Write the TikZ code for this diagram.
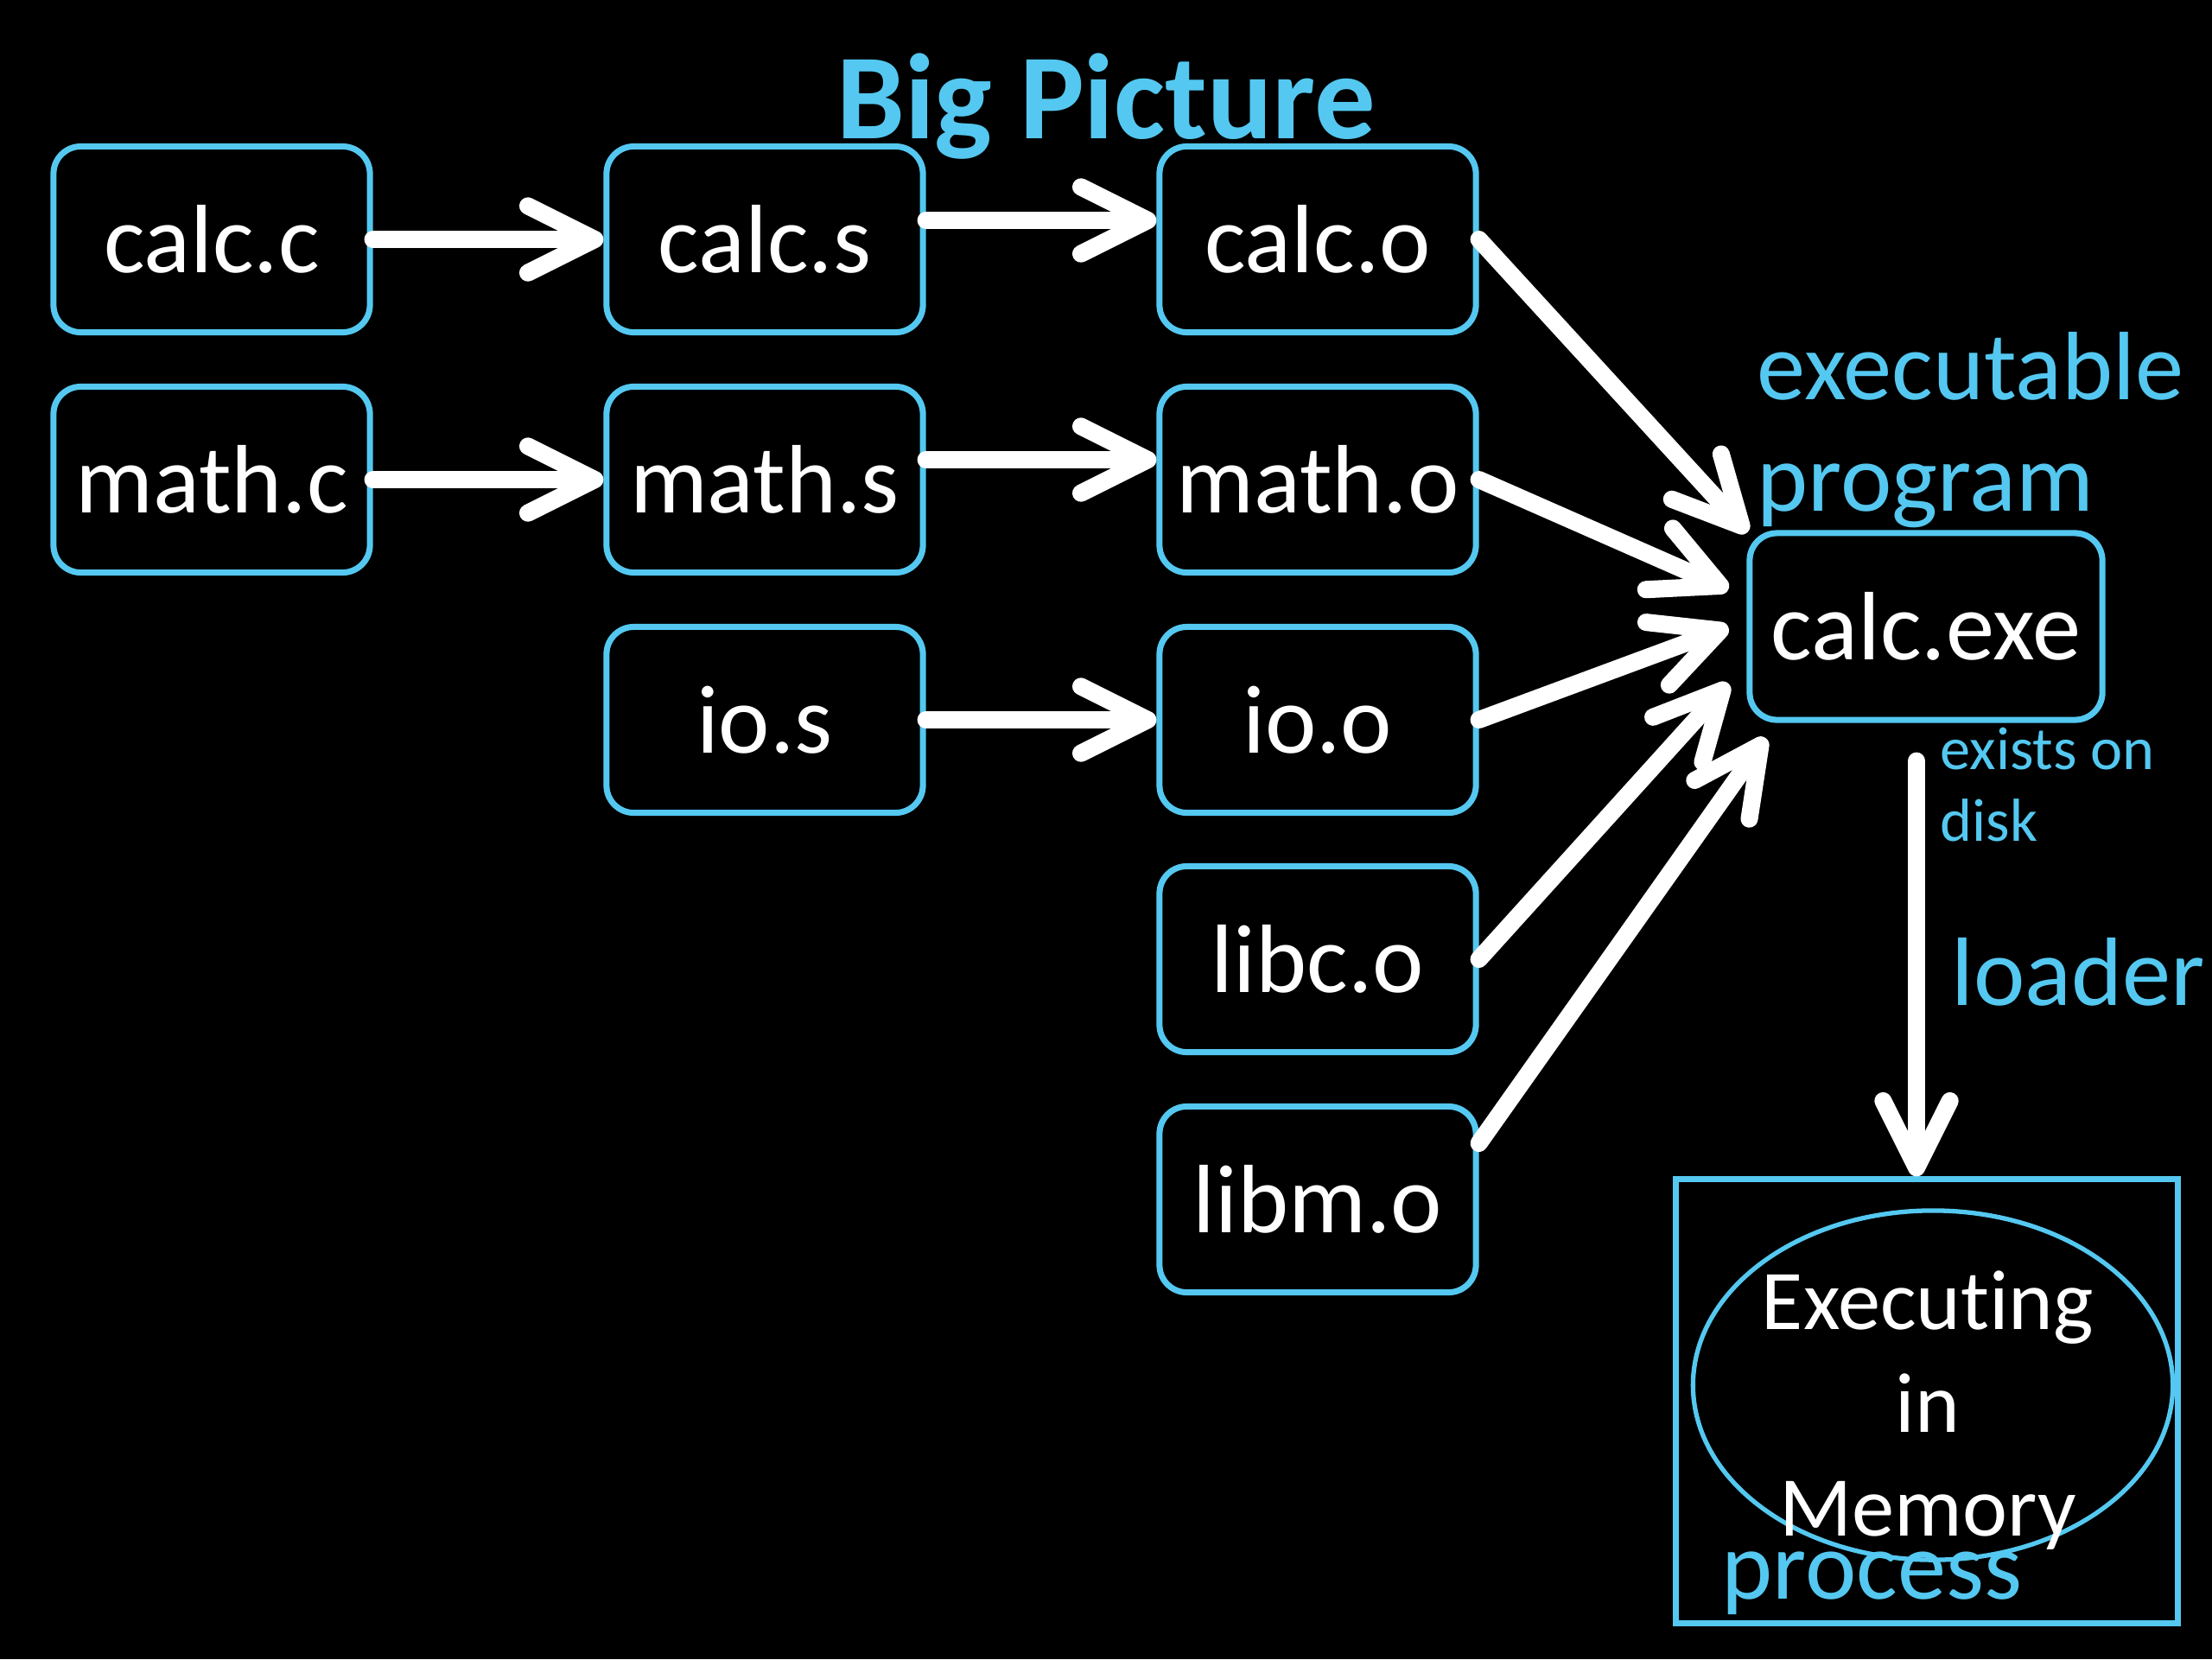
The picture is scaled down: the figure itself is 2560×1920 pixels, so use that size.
\documentclass[tikz,border=0pt]{standalone}
\usepackage{fontspec}
\setmainfont[Ligatures=NoCommon]{Carlito}
\usetikzlibrary{arrows.meta,calc,shapes.geometric}
\definecolor{cy}{RGB}{84,200,240}
\begin{document}
\begin{tikzpicture}[x=0.01cm,y=-0.01cm,
  file/.style={draw=cy, line width=2pt, rounded corners=9pt, fill=black, text=white,
    minimum width=3.66cm, minimum height=2.15cm, inner sep=0pt,
    font=\fontsize{32}{38}\selectfont},
  flow/.style={draw=white, line width=5.7pt, line cap=round,
    -{Straight Barb[length=22pt,width=22pt,round]}},
  lbl/.style={text=cy, inner sep=0pt, anchor=base west}]
\fill[black] (0,0) rectangle (2560,1920);
\useasboundingbox (0,0) rectangle (2560,1920);

% title
\node[text=cy, inner sep=0pt, anchor=base, font=\fontsize{40}{46}\selectfont\bfseries] (title) at (1280,160) {Big Picture};

% file boxes
\node[file] (calcc) at (245,277) {calc.c};
\node[file] (calcs) at (885,277) {calc.s};
\node[file] (calco) at (1525,277) {calc.o};
\node[file] (mathc) at (245,555) {math.c};
\node[file] (maths) at (885,555) {math.s};
\node[file] (matho) at (1525,555) {math.o};
\node[file] (ios) at (885,833) {io.s};
\node[file] (ioo) at (1525,833) {io.o};
\node[file] (libco) at (1525,1110) {libc.o};
\node[file] (libmo) at (1525,1388) {libm.o};
\node[file, minimum width=4.08cm, minimum height=2.16cm] (calcexe) at (2229,725) {calc.exe};

% labels
\node[lbl, font=\fontsize{32}{38}\selectfont] (exe1) at (2033,462) {executable};
\node[lbl, font=\fontsize{32}{38}\selectfont] (exe2) at (2033,591) {program};
\node[lbl, font=\fontsize{20}{24}\selectfont] (disk1) at (2245,890) {exists on};
\node[lbl, font=\fontsize{20}{24}\selectfont] (disk2) at (2245,973) {disk};
\node[lbl, font=\fontsize{32}{38}\selectfont] (loader) at (2258,1163) {loader};

% process
\node[draw=cy, line width=2pt, minimum width=5.8cm, minimum height=5.13cm, inner sep=0pt] (proc) at (2230,1621.5) {};
\node[draw=cy, line width=1.5pt, ellipse, minimum width=5.55cm, minimum height=4.04cm, inner sep=0pt] (ell) at (2237,1603) {};
\node[text=white, inner sep=0pt, anchor=base, align=center, font=\fontsize{28}{33.9}\selectfont] (exec) at (2231,1777) {Executing\\in\\Memory};
\node[lbl, font=\fontsize{32}{38}\selectfont] (procl) at (1992,1850) {process};

% connectors
\draw[flow] (calcc.east) -- (calcs.west);
\draw[flow] ($(calcs.east)+(0,-22)$) -- ($(calco.west)+(0,-22)$);
\draw[flow] (mathc.east) -- (maths.west);
\draw[flow] ($(maths.east)+(0,-23)$) -- ($(matho.west)+(0,-23)$);
\draw[flow] (ios.east) -- (ioo.west);

\draw[flow] (calco.east) -- ($(calcexe.west)+(1,-109)$);
\draw[flow] (matho.east) -- ($(calcexe.west)+(-21,-43)$);
\draw[flow] (ioo.east) -- ($(calcexe.west)+(-21,1)$);
\draw[flow] (libco.east) -- ($(calcexe.west)+(-21,66)$);
\draw[flow] ($(libmo.east)+(0,-65)$) -- ($(calcexe.west)+(22,129)$);

\coordinate (ldtop) at ($(calcexe.south)+(-11,44)$);
\draw[flow] (ldtop) -- (ldtop |- proc.north);
\end{tikzpicture}
\end{document}
